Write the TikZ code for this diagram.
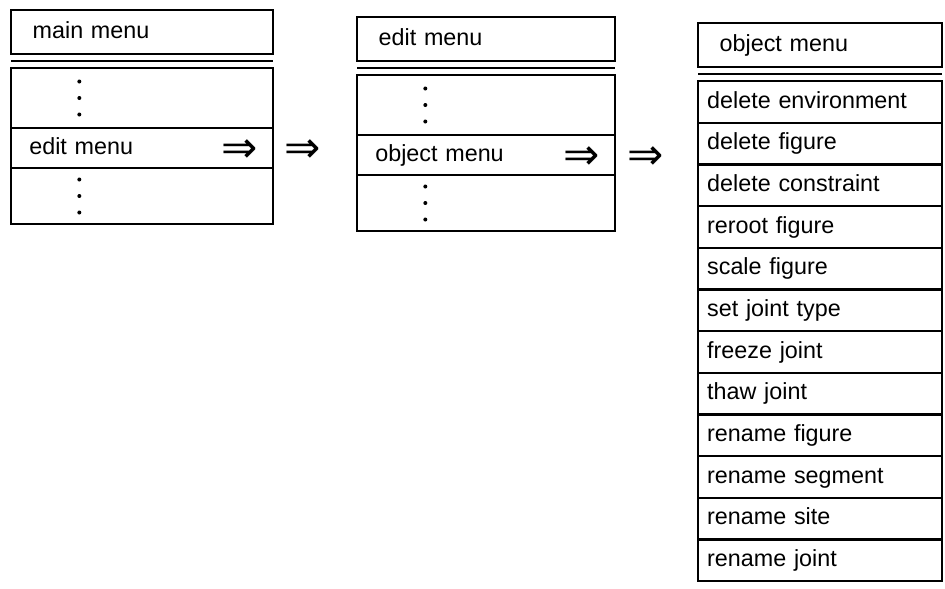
\documentclass[tikz,border=0pt]{standalone}
\usepackage{fontspec}
\setmainfont{Liberation Sans}
\newfontfamily\arrowfont{DejaVu Sans}
\usetikzlibrary{positioning}
\newcommand\menufont{\fontsize{14}{16}\selectfont}

\begin{document}
\begin{tikzpicture}[
  x=0.6pt,y=-0.6pt,
  node distance=0pt,
  cell/.style={draw,line width=1.4pt,outer sep=0pt,inner ysep=0pt,align=left,
    text height=10.5pt,text depth=3pt,font=\menufont},
  head/.style={cell,minimum height=26.4pt,inner xsep=13pt,text width=#1},
  item/.style={cell,minimum height=24pt,inner xsep=11pt,text width=#1},
  entry/.style={cell,minimum height=25pt,inner xsep=5.5pt,text width=135.4pt},
  dots/.style={cell,inner sep=0pt,minimum width=#1},
  rule/.style={line width=1.4pt},
  imp/.style={inner sep=0pt,font=\arrowfont\fontsize{26}{26}\selectfont}
]
\useasboundingbox (0,0) rectangle (945,588);

% main menu
\node[head=131.2pt,anchor=north west] (m1) at (11,10) {main menu};
\node[dots=157.2pt,minimum height=36pt,below=8.4pt of m1] (m1a) {};
\node[item=135.2pt,below=of m1a] (m1b) {edit menu};
\node[dots=157.2pt,minimum height=33.6pt,below=of m1b] (m1c) {};
\draw[rule] ([yshift=-4.2pt]m1.south west) -- ([yshift=-4.2pt]m1.south east);
\node[imp,anchor=east] (m1x) at ([xshift=-9pt,yshift=-2pt]m1b.east) {⇒};
\node[imp,right=7pt of m1b,yshift=-2pt] (m1y) {⇒};

% edit menu
\node[head=128.8pt,anchor=north west] (m2) at (357,17) {edit menu};
\node[dots=154.8pt,minimum height=36pt,below=8.4pt of m2] (m2a) {};
\node[item=132.8pt,below=of m2a] (m2b) {object menu};
\node[dots=154.8pt,minimum height=33.6pt,below=of m2b] (m2c) {};
\draw[rule] ([yshift=-4.2pt]m2.south west) -- ([yshift=-4.2pt]m2.south east);
\node[imp,anchor=east] (m2x) at ([xshift=-9pt,yshift=-2pt]m2b.east) {⇒};
\node[imp,right=7pt of m2b,yshift=-2pt] (m2y) {⇒};

\foreach \r in {m1a,m1c,m2a,m2c}
  \foreach \k in {-1,0,1}
    \fill ([xshift=41pt,yshift=\k*9.9pt]\r.west) circle (1.2pt);

% object menu
\node[head=120.4pt,anchor=north west] (p0) at (698,23) {object menu};
\draw[rule] ([yshift=-4.2pt]p0.south west) -- ([yshift=-4.2pt]p0.south east);
\foreach \t [count=\i, remember=\i as \j (initially 0)] in {delete environment,delete figure,
  delete constraint,reroot figure,scale figure,set joint type,freeze joint,thaw joint,
  rename figure,rename segment,rename site,rename joint}{
  \pgfmathsetmacro\d{\i==1 ? 8.4 : 0}
  \node[entry,below=\d pt of p\j] (p\i) {\t};
}
\end{tikzpicture}
\end{document}
